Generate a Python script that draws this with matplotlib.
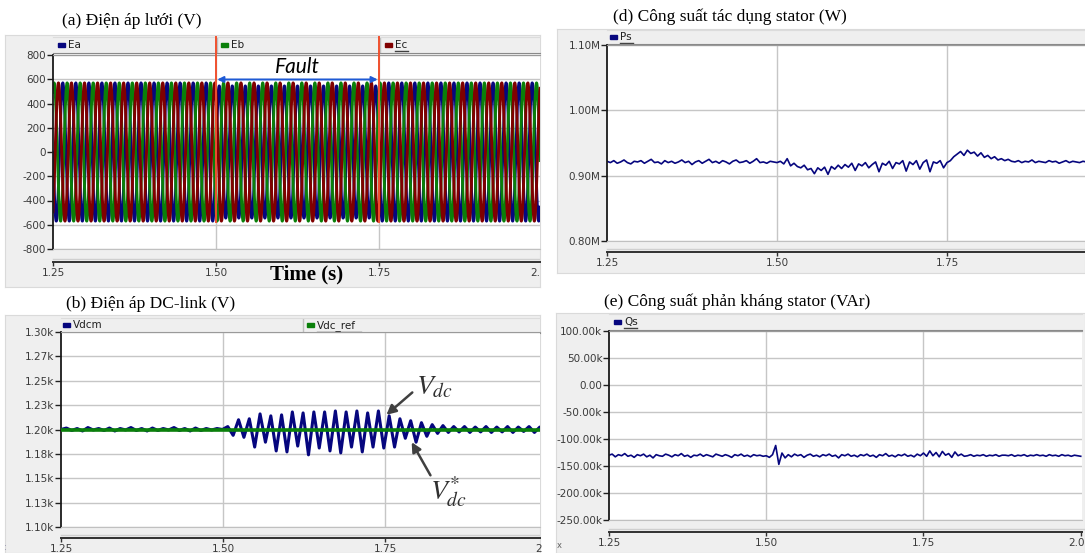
import numpy as np
import matplotlib
matplotlib.use('Agg')
import matplotlib.pyplot as plt
from matplotlib.patches import Rectangle
from matplotlib.transforms import blended_transform_factory

plt.rcParams['mathtext.fontset'] = 'stix'

# ---------------- data ----------------
grid_hz = 50.0
fault_on, fault_off = 1.50, 1.75
# peak phase voltage (V) before / during / after the fault
ea_amp = [570, 545, 570]
eb_amp = [570, 570, 570]
ec_amp = [570, 570, 570]

# DC-link voltage, sampled every half ripple period
vdc_t0, vdc_dt = 1.25, 0.0083
vdc = [1200, 1201.5, 1199, 1201, 1198.5, 1202, 1199.5, 1201, 1199, 1201.5,
       1198.5, 1201, 1199.5, 1202, 1199, 1201, 1198.5, 1201.5, 1199, 1201,
       1199.5, 1202, 1199, 1201, 1198.5, 1201.5, 1199, 1201, 1199.5, 1201, 1200,
       1203, 1194, 1210, 1192, 1211, 1182, 1216, 1187, 1214, 1178,
       1215, 1177, 1218, 1183, 1217, 1174, 1218, 1181, 1218, 1178,
       1219, 1176, 1218, 1182, 1219, 1177, 1217, 1182, 1219, 1181,
       1214, 1182, 1211, 1191, 1209, 1187, 1207, 1193, 1205, 1196, 1204,
       1197, 1203, 1197.5, 1203, 1197, 1202.5, 1197.5, 1203, 1197, 1202.5,
       1197.5, 1203, 1197, 1202.5, 1198, 1203, 1197, 1202.5, 1197.5, 1203, 1198]
vdc_ref = 1200

# stator active power (kW)
ps_t0, ps_dt = 1.25, 0.005
ps_kw = [922, 920, 923, 919, 921, 924, 920, 918, 922, 921,
         923, 919, 922, 925, 920, 921, 918, 923, 920, 922,
         919, 921, 924, 920, 922, 917, 921, 923, 919, 922,
         925, 920, 922, 919, 923, 921, 918, 922, 924, 920,
         921, 923, 919, 922, 926, 920, 921, 919, 922, 921,
         920, 922, 918, 926, 915, 919, 914, 912, 916, 909,
         911, 903, 912, 908, 913, 902, 914, 910, 916, 911,
         917, 913, 919, 908, 918, 915, 920, 912, 917, 921,
         906, 919, 916, 922, 911, 920, 918, 923, 907, 921,
         917, 923, 910, 920, 924, 906, 921, 919, 923, 912,
         920, 923, 929, 933, 937, 931, 939, 934, 936, 930,
         935, 928, 931, 926, 929, 924, 926, 923, 925, 922,
         921, 923, 920, 922, 921, 924, 920, 922, 921, 920,
         923, 921, 922, 919, 921, 923, 920, 922, 921, 920,
         922, 921, 920, 922]

# stator reactive power (kVAr)
qs_t0, qs_dt = 1.25, 0.005
qs_kvar = [-130, -128, -133, -129, -131, -127, -132, -130, -134, -129,
           -131, -128, -133, -130, -135, -129, -131, -132, -128, -130,
           -133, -129, -131, -127, -132, -130, -134, -130, -131, -128,
           -132, -129, -131, -133, -128, -130, -132, -129, -131, -134,
           -129, -131, -128, -132, -130, -133, -129, -131, -130, -132,
           -131, -134, -129, -112, -147, -126, -135, -129, -133, -128,
           -131, -129, -134, -130, -128, -132, -130, -133, -129, -131,
           -128, -132, -130, -135, -129, -131, -128, -132, -130, -133,
           -129, -131, -128, -132, -130, -134, -129, -131, -127, -132,
           -130, -133, -129, -131, -128, -132, -130, -133, -128, -131,
           -126, -132, -122, -131, -125, -133, -123, -130, -127, -134,
           -124, -131, -128, -132,
           -131, -129, -132, -130, -131, -129, -132, -130, -131, -129,
           -132, -130, -130, -131, -129, -132, -130, -131, -129, -132,
           -130, -131, -129, -131, -130, -132, -129, -131, -130, -132,
           -129, -131, -130, -132, -130, -131, -132]

x_ticks = [1.25, 1.50, 1.75, 2.00]
x_labels = ['1.25', '1.50', '1.75', '2.00']
a_yticks = [800, 600, 400, 200, 0, -200, -400, -600, -800]
a_ylabels = ['800', '600', '400', '200', '0', '-200', '-400', '-600', '-800']
b_yticks = [1300, 1275, 1250, 1225, 1200, 1175, 1150, 1125, 1100]
b_ylabels = ['1.30k', '1.27k', '1.25k', '1.23k', '1.20k', '1.18k', '1.15k', '1.13k', '1.10k']
d_yticks = [1.10e6, 1.00e6, 0.90e6, 0.80e6]
d_ylabels = ['1.10M', '1.00M', '0.90M', '0.80M']
e_yticks = [100e3, 50e3, 0, -50e3, -100e3, -150e3, -200e3, -250e3]
e_ylabels = ['100.00k', '50.00k', '0.00', '-50.00k', '-100.00k', '-150.00k', '-200.00k', '-250.00k']

# ---------------- styling ----------------
W, H = 1085, 553
FRAME = '#efefef'
GRIDC = '#c6c6c6'
NAVY = '#06067e'
GREEN = '#0a800a'
DRED = '#800000'
TICKC = '#3a3a3a'
TFONT = 'DejaVu Sans'

fig = plt.figure(figsize=(W / 100, H / 100), dpi=100)
fig.patch.set_facecolor('white')


def px_rect(x0, y0, x1, y1):
    return [x0 / W, 1 - y1 / H, (x1 - x0) / W, (y1 - y0) / H]


def panel(frame, leg, plot, xline, label_y, xlim, ylim, yticks, ylabels):
    fx0, fy0, fx1, fy1 = frame
    px0, py0, px1, py1 = plot

    bg = fig.add_axes(px_rect(*frame), zorder=0)
    bg.set_facecolor(FRAME)
    bg.set_xlim(fx0, fx1)
    bg.set_ylim(fy1, fy0)
    bg.set_xticks([])
    bg.set_yticks([])
    for s in bg.spines.values():
        s.set_color('#dadada')

    lg = fig.add_axes(px_rect(px0, leg[0], px1, leg[1]), zorder=1)
    lg.set_facecolor(FRAME)
    lg.set_xlim(px0, px1)
    lg.set_ylim(leg[1], leg[0])
    lg.set_xticks([])
    lg.set_yticks([])
    for k, s in lg.spines.items():
        s.set_visible(k in ('bottom', 'top'))
    lg.spines['bottom'].set_color('#8a8a8a')
    lg.spines['top'].set_color('#dcdcdc')

    ax = fig.add_axes(px_rect(*plot), zorder=2)
    ax.set_facecolor('white')
    ax.set_xlim(*xlim)
    ax.set_ylim(*ylim)
    ax.set_xticks([1.50, 1.75])
    ax.tick_params(axis='x', length=0, labelbottom=False)
    ax.set_yticks(yticks)
    ax.set_yticklabels(ylabels, fontsize=7.5, color=TICKC, family=TFONT)
    ax.tick_params(axis='y', length=4, width=1, pad=0.8, color='#202020')
    ax.grid(True, color=GRIDC, lw=1)
    ax.set_axisbelow(True)
    ax.spines['left'].set_color('#1a1a1a')
    ax.spines['left'].set_linewidth(1.3)
    ax.spines['top'].set_color('#9a9a9a')
    ax.spines['bottom'].set_color('#c0c0c0')
    ax.spines['right'].set_visible(False)

    sx = fig.add_axes(px_rect(px0, xline, px1, xline + 2), zorder=1)
    sx.set_facecolor(FRAME)
    sx.set_xlim(*xlim)
    sx.set_xticks([t for t in x_ticks if t <= xlim[1]])
    sx.tick_params(axis='x', top=True, bottom=False, direction='in', length=3,
                   width=1, color='#303030', labelbottom=False)
    sx.set_yticks([])
    for k, s in sx.spines.items():
        s.set_visible(k == 'top')
    sx.spines['top'].set_color('#303030')
    sx.spines['top'].set_linewidth(1.4)

    bg.plot([px0, fx1], [xline - 3, xline - 3], color='#cfcfcf', lw=1)
    tr = blended_transform_factory(ax.transData, bg.transData)
    scale = (px1 - px0) / (xlim[1] - xlim[0])
    for t, lab in zip(x_ticks, x_labels):
        xpix = px0 + (t - xlim[0]) * scale
        if xpix > fx1 + 10:
            continue
        if xpix + 12 > fx1:
            # the screenshot is cropped through this label: keep the visible part
            vis = lab[:max(1, round((fx1 - (xpix - 12)) / 6.3))]
            bg.text(xpix - 12, label_y, vis, ha='left', va='center',
                    fontsize=7.5, color=TICKC, family=TFONT)
        else:
            bg.text(t, label_y, lab, transform=tr, ha='center', va='center',
                    fontsize=7.5, color=TICKC, family=TFONT)
    return bg, lg, ax


def legend_entry(lg, x, ymid, color, label, underline=False):
    lg.add_patch(Rectangle((x, ymid - 2.5), 7, 4, color=color))
    lg.text(x + 10, ymid, label, va='center', ha='left', fontsize=7.5,
            color='#202020', family=TFONT)
    if underline:
        lg.plot([x + 10, x + 10 + 6.3 * len(label)], [ymid + 6, ymid + 6],
                color='#404040', lw=1)


def title(x, y, s):
    fig.text(x / W, 1 - y / H, s, family='Liberation Serif', fontsize=12.5,
             va='center', ha='left', color='black')


def pointer(ax, tail, head):
    ax.annotate('', xy=head, xytext=tail,
                arrowprops=dict(arrowstyle='-|>', color='#404040', lw=1.8,
                                mutation_scale=14, shrinkA=0, shrinkB=0), zorder=6)


# ---------------- (a) grid voltage ----------------
a_xlim = (1.25, 1.997)
bg, lg, ax = panel((5, 35, 540, 287), (37, 53), (53, 55, 540, 249), 262, 273,
                   a_xlim, (-800, 800), a_yticks, a_ylabels)
t = np.linspace(1.25, 2.05, 12000)
for amps, shift, color in ((ea_amp, 0.0, NAVY), (eb_amp, -2 * np.pi / 3, GREEN),
                           (ec_amp, 2 * np.pi / 3, DRED)):
    amp = np.where(t < fault_on, amps[0], np.where(t < fault_off, amps[1], amps[2]))
    ax.plot(t, amp * np.sin(2 * np.pi * grid_hz * t + shift), color=color, lw=2.1)
for xf in (fault_on, fault_off):
    ax.axvline(xf, ymin=0.14, ymax=1 + 18 / 194, clip_on=False, color='#f0502e',
               lw=1.4, zorder=5)
ax.annotate('', xy=(fault_on + 0.002, 598), xytext=(fault_off - 0.002, 598),
            arrowprops=dict(arrowstyle='<|-|>', color='#1e5ad6', lw=1.4,
                            mutation_scale=9, shrinkA=0, shrinkB=0), zorder=6)
ax.text((fault_on + fault_off) / 2, 705, 'Fault', ha='center', va='center',
        fontsize=15, style='italic', family='Lato', color='black', zorder=6)
legend_entry(lg, 58, 45, NAVY, 'Ea')
legend_entry(lg, 221, 45, GREEN, 'Eb')
legend_entry(lg, 385, 45, DRED, 'Ec', underline=True)
for sxp in (217, 380):
    lg.axvline(sxp, color='#c0c0c0', lw=1)
bg.text(307, 274, 'Time (s)', family='Liberation Serif', fontweight='bold',
        fontsize=15, ha='center', va='center', color='black')
title(62, 21, '(a) Điện áp lưới (V)')

# ---------------- (b) DC-link voltage ----------------
b_xlim = (1.25, 1.989)
bg, lg, ax = panel((5, 315, 540, 553), (318, 333), (61, 332, 540, 527), 538, 549,
                   b_xlim, (1100, 1300), b_yticks, b_ylabels)
tv = vdc_t0 + vdc_dt * np.arange(len(vdc))
ax.plot(tv, vdc, color=NAVY, lw=2.2, zorder=3)
ax.plot([1.25, 2.05], [vdc_ref, vdc_ref], color=GREEN, lw=2.6, zorder=4)
ax.text(1.826, 1244, r'$V_{dc}$', fontsize=20, ha='center', va='center',
        color='#303030', zorder=6)
ax.text(1.848, 1136, r'$V_{dc}^{*}$', fontsize=20, ha='center', va='center',
        color='#303030', zorder=6)
pointer(ax, (1.792, 1238), (1.752, 1215))
pointer(ax, (1.820, 1153), (1.791, 1187))
legend_entry(lg, 63, 325.5, NAVY, 'Vdcm')
legend_entry(lg, 307, 325.5, GREEN, 'Vdc_ref', underline=True)
lg.axvline(303, color='#c0c0c0', lw=1)
title(66, 304, '(b) Điện áp DC-link (V)')
fig.text(4 / W, 1 - 548 / H, ':', fontsize=6, color='#8080a0', va='center')

# ---------------- (d) stator active power ----------------
d_xlim = (1.25, 1.953)
bg, lg, ax = panel((557, 29, 1085, 273), (30, 44), (607, 45, 1085, 241), 252, 263,
                   d_xlim, (0.8e6, 1.1e6), d_yticks, d_ylabels)
tp = ps_t0 + ps_dt * np.arange(len(ps_kw))
ax.plot(tp, np.array(ps_kw) * 1e3, color=NAVY, lw=1.2)
legend_entry(lg, 610, 37, NAVY, 'Ps', underline=True)
title(613, 17, '(d) Công suất tác dụng stator (W)')

# ---------------- (e) stator reactive power ----------------
e_xlim = (1.25, 2.002)
bg, lg, ax = panel((556, 313, 1085, 553), (314, 330), (609, 331, 1082, 520), 532, 543,
                   e_xlim, (-250e3, 100e3), e_yticks, e_ylabels)
tq = qs_t0 + qs_dt * np.arange(len(qs_kvar))
ax.plot(tq, np.array(qs_kvar) * 1e3, color=NAVY, lw=1.2)
legend_entry(lg, 614, 322, NAVY, 'Qs', underline=True)
title(604, 302, '(e) Công suất phản kháng stator (VAr)')
fig.text(557 / W, 1 - 546 / H, 'x', fontsize=6, color='#606060', va='center')

fig.savefig('out.png', dpi=100)
